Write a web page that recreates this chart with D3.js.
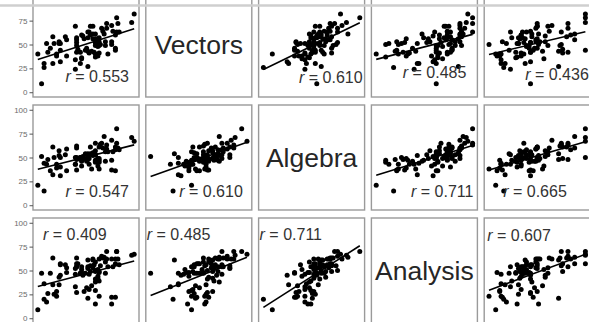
<!DOCTYPE html>
<html><head><meta charset="utf-8">
<script src="https://cdn.jsdelivr.net/npm/d3@7"></script>
<style>body{margin:0;background:#fff;overflow:hidden}svg{display:block}</style>
</head><body>
<svg id="c" width="589" height="322"></svg>
<script>
// Open/closed book exam marks (88 students)
const variableNames = ["Mechanics","Vectors","Algebra","Analysis","Statistics"];
const mechanics = [77,63,75,55,63,53,51,59,62,64,52,55,50,65,31,60,44,42,62,31,44,49,12,49,54,54,44,18,46,32,30,46,40,31,36,56,46,45,42,40,23,48,41,46,46,40,49,22,35,48,31,17,49,59,37,40,35,38,43,39,62,48,34,18,35,59,41,31,17,34,46,10,46,30,13,49,18,8,23,30,3,7,15,15,5,12,5,0];
const vectors   = [82,78,73,72,63,61,67,70,60,72,64,67,50,63,55,64,69,69,46,49,61,41,58,53,49,53,56,44,52,45,69,49,27,42,59,40,56,42,60,63,55,48,63,52,61,57,49,58,60,56,57,53,57,50,56,43,35,44,43,46,44,38,42,51,36,53,41,52,51,30,40,46,37,34,51,50,32,42,38,24,9,51,40,38,30,30,26,40];
const algebra   = [67,80,71,63,65,72,65,68,58,60,60,59,64,58,60,56,53,61,61,62,52,61,61,49,56,46,55,50,65,49,50,53,54,48,51,56,57,55,54,53,59,49,49,53,46,51,45,53,47,49,50,57,47,47,49,48,41,54,38,46,36,41,50,40,46,37,43,37,52,50,47,36,45,43,50,38,31,48,36,43,51,43,43,39,44,32,15,21];
const analysis  = [67,70,66,70,70,64,65,62,62,62,63,62,55,56,57,54,53,55,57,63,62,49,63,62,47,59,61,57,50,57,52,59,61,54,45,54,49,56,49,54,53,51,46,41,38,52,48,56,54,42,54,43,39,15,28,21,51,47,34,32,22,44,47,56,48,22,30,27,35,47,29,47,15,46,25,23,45,26,48,33,47,17,23,28,36,35,20,9];
const statistics= [81,81,81,68,63,73,68,56,70,45,54,44,63,37,73,40,53,45,45,62,46,64,67,47,53,44,36,81,35,64,45,37,61,68,51,35,32,40,33,25,44,37,34,40,41,31,39,41,33,32,34,51,26,46,45,61,50,24,49,43,42,33,29,30,29,19,33,40,31,36,17,39,30,18,31,9,40,40,15,25,40,22,18,17,18,21,20,14];
const allVars = [mechanics, vectors, algebra, analysis, statistics];
const corrMatrix = [
  [1, 0.553, 0.547, 0.409, 0.389],
  [0.553, 1, 0.610, 0.485, 0.436],
  [0.547, 0.610, 1, 0.711, 0.665],
  [0.409, 0.485, 0.711, 1, 0.607],
  [0.389, 0.436, 0.665, 0.607, 1]
];
const visibleRows = [1, 2, 3];
const visibleCols = [0, 1, 2, 3, 4];
const yTicks = [0, 25, 50, 75, 100];

// ---- layout ----
const colLeft = [33, 145.8, 258.6, 371.4, 484.2];
const panelW = 106;
const rowTop = [-8, 105, 218];
const panelH = 105;
// r label placement per visible panel: [anchor, dx from anchor side, baseline dy from anchor side]
const labelLayout = {
  "0-0": ["end", -10, -15], "0-2": ["end", -2, -14], "0-3": ["end", -11, -19], "0-4": ["start", 41, -17],
  "1-0": ["end", -10, -13], "1-1": ["end", -9, -13], "1-3": ["end", -4, -13], "1-4": ["start", 19, -13],
  "2-0": ["start", 10, 22], "2-1": ["start", 1, 22], "2-2": ["start", 1, 22], "2-4": ["start", 3, 23]
};

const svg = d3.select("#c");
const font = "'Liberation Sans', Arial, Helvetica, sans-serif";

visibleRows.forEach((rv, ri) => {
  const y = d3.scaleLinear().domain([-5, 105]).range([rowTop[ri] + panelH, rowTop[ri]]);
  visibleCols.forEach((cv, ci) => {
    const ext = d3.extent(allVars[cv]);
    const pad = (ext[1] - ext[0]) * 0.05;
    const x = d3.scaleLinear().domain([ext[0] - pad, ext[1] + pad]).range([colLeft[ci], colLeft[ci] + panelW]);
    const g = svg.append("g");
    if (rv === cv) {
      g.append("text").attr("x", colLeft[ci] + panelW / 2).attr("y", rowTop[ri] + panelH / 2)
        .attr("text-anchor", "middle").attr("dominant-baseline", "central")
        .attr("font-family", font).attr("font-size", 26.5).attr("fill", "#262626")
        .text(variableNames[rv]);
    } else {
      const xs = allVars[cv], ys = allVars[rv];
      const mx = d3.mean(xs), my = d3.mean(ys);
      let sxy = 0, sxx = 0;
      xs.forEach((xv, i) => { sxy += (xv - mx) * (ys[i] - my); sxx += (xv - mx) ** 2; });
      const b = sxy / sxx, a = my - b * mx;
      const clipId = `clip-${ri}-${ci}`;
      svg.append("clipPath").attr("id", clipId).append("rect")
        .attr("x", colLeft[ci]).attr("y", rowTop[ri]).attr("width", panelW).attr("height", panelH);
      const pg = g.append("g").attr("clip-path", `url(#${clipId})`);
      pg.selectAll("circle").data(xs.map((xv, i) => [xv, ys[i]])).join("circle")
        .attr("cx", d => x(d[0])).attr("cy", d => y(d[1])).attr("r", 2.5).attr("fill", "#000");
      pg.append("line")
        .attr("x1", x(ext[0])).attr("y1", y(a + b * ext[0]))
        .attr("x2", x(ext[1])).attr("y2", y(a + b * ext[1]))
        .attr("stroke", "#000").attr("stroke-width", 1.6);
      const lay = labelLayout[`${ri}-${ci}`];
      if (lay) {
        const lx = lay[0] === "end" ? colLeft[ci] + panelW + lay[1] : colLeft[ci] + lay[1];
        const ly = lay[2] < 0 ? rowTop[ri] + panelH + lay[2] : rowTop[ri] + lay[2];
        const t = g.append("text").attr("x", lx).attr("y", ly).attr("text-anchor", lay[0])
          .attr("font-family", font).attr("font-size", 16).attr("fill", "#333");
        t.append("tspan").attr("font-style", "italic").text("r");
        t.append("tspan").text(" = " + corrMatrix[rv][cv].toFixed(3));
      }
    }
    g.append("rect").attr("x", colLeft[ci]).attr("y", rowTop[ri]).attr("width", panelW).attr("height", panelH)
      .attr("fill", "none").attr("stroke", "#9a9a9a").attr("stroke-width", 1.4);
  });
  // y axis on the left (only ticks that fall inside the visible area)
  const shownTicks = yTicks.filter(t => y(t) > 8);
  const ax = svg.append("g").attr("transform", `translate(${colLeft[0]},0)`)
    .call(d3.axisLeft(y).tickValues(shownTicks).tickSize(3.5).tickPadding(2));
  ax.select(".domain").remove();
  ax.selectAll("line").attr("stroke", "#555");
  ax.selectAll("text").attr("font-family", font).attr("font-size", 8).attr("fill", "#6b6b6b");
});

// thin band at the top edge
svg.append("line").attr("x1", 0).attr("x2", 589).attr("y1", 5.5).attr("y2", 5.5)
  .attr("stroke", "#cfcfcf").attr("stroke-width", 2.5);
</script>
</body></html>
